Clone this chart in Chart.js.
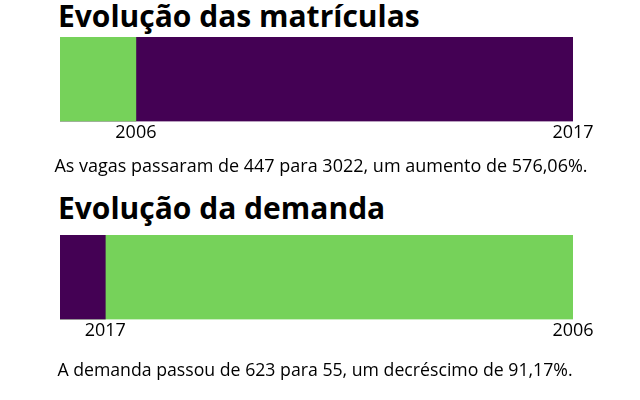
<!DOCTYPE html>
<html><head><meta charset="utf-8">
<script src="https://cdn.jsdelivr.net/npm/chart.js@4"></script>
<style>
body{margin:0;width:640px;height:400px;background:#fff;position:relative;font-family:'Open Sans',sans-serif;overflow:hidden}
.t{position:absolute;left:58px;font-weight:700;font-size:30px;line-height:36px;color:#000;white-space:nowrap}
.c{position:absolute;font-size:18px;line-height:22px;color:#000;white-space:nowrap;width:640px;text-align:center}
.w{position:absolute;left:0;width:640px;height:130px}
</style></head><body>
<div class="t" style="top:-2px">Evolução das matrículas</div>
<div class="w" style="top:37px"><canvas id="c1"></canvas></div>
<div class="c" style="top:154px;left:1px">As vagas passaram de 447 para 3022, um aumento de 576,06%.</div>
<div class="t" style="top:190px">Evolução da demanda</div>
<div class="w" style="top:235px"><canvas id="c2"></canvas></div>
<div class="c" style="top:358px;left:-5px;font-size:17.7px">A demanda passou de 623 para 55, um decréscimo de 91,17%.</div>
<script>
const GREEN = '#76d25a';
const PURPLE = '#440154';

const years1 = ['2006', '2017'];
const values1 = [447, 3022];
const years2 = ['2017', '2006'];
const values2 = [55, 623];
const yearColors = {'2006': GREEN, '2017': PURPLE};

function makeChart(id, years, values) {
  const maxV = Math.max(...values);
  new Chart(document.getElementById(id), {
    type: 'bar',
    data: {
      labels: [''],
      datasets: years.map((y, i) => ({
        label: y,
        data: [values[i]],
        backgroundColor: yearColors[y],
        borderWidth: 0,
        order: i,
        barPercentage: 1,
        categoryPercentage: 1
      }))
    },
    options: {
      indexAxis: 'y',
      responsive: true,
      maintainAspectRatio: false,
      animation: false,
      layout: {padding: {left: 60, right: 67, top: 0, bottom: 22}},
      plugins: {legend: {display: false}, tooltip: {enabled: false}},
      scales: {
        y: {display: false, stacked: true},
        x: {
          type: 'linear', min: 0, max: maxV, stacked: false,
          grid: {display: false, drawTicks: false},
          border: {display: false},
          afterBuildTicks: s => { s.ticks = values.map(v => ({value: v})); },
          ticks: {
            autoSkip: false, maxRotation: 0, padding: 1,
            color: '#000',
            font: {family: 'Open Sans', size: 18},
            callback: (v, i) => years[i]
          }
        }
      }
    }
  });
}
makeChart('c1', years1, values1);
makeChart('c2', years2, values2);
</script>
</body></html>
